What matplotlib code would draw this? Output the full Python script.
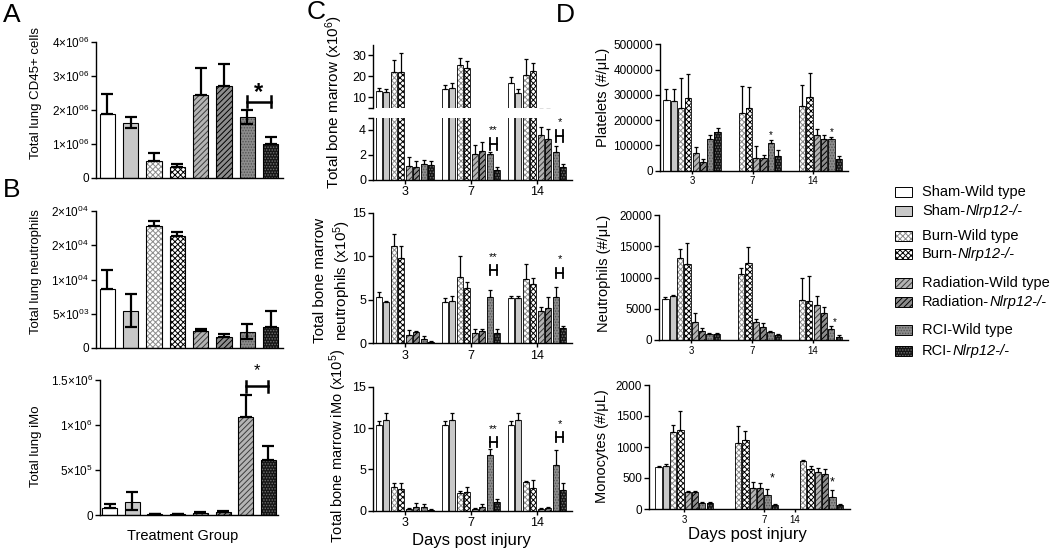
import numpy as np
import matplotlib
matplotlib.use('Agg')
import matplotlib.pyplot as plt
from matplotlib.patches import Rectangle

plt.rcParams['font.family'] = ['Liberation Sans', 'DejaVu Sans']
plt.rcParams['mathtext.fontset'] = 'custom'
plt.rcParams['mathtext.rm'] = 'Liberation Sans'
plt.rcParams['mathtext.it'] = 'Liberation Sans:italic'
plt.rcParams['hatch.linewidth'] = 0.7
plt.rcParams['axes.linewidth'] = 1.0

nan = np.nan

# ---- data ----
groups = ['Sham-', 'Sham-', 'Burn-', 'Burn-', 'Radiation-', 'Radiation-', 'RCI-', 'RCI-']
genotype = ['Wild type', 'Nlrp12-/-', 'Wild type', 'Nlrp12-/-',
            'Wild type', 'Nlrp12-/-', 'Wild type', 'Nlrp12-/-']

# panel A / B: lung, one bar per group (value, top of whisker, bottom of whisker)
lung_cd45 = [1.89e6, 1.63e6, 0.50e6, 0.31e6, 2.44e6, 2.70e6, 1.79e6, 1.00e6]
lung_cd45_top = [2.47e6, 1.80e6, 0.74e6, 0.41e6, 3.23e6, 3.35e6, 2.00e6, 1.21e6]
lung_cd45_low = [1.89e6, 1.46e6, 0.50e6, 0.31e6, 2.44e6, 2.70e6, 1.60e6, 1.00e6]

lung_neut = [8600, 5400, 17860, 16400, 2480, 1560, 2380, 3070]
lung_neut_top = [11340, 7830, 18490, 16930, 2820, 2000, 3550, 5400]
lung_neut_low = [8600, 3070, 17860, 16400, 2480, 1560, 1310, 3070]

lung_imo = [0.074e6, 0.15e6, 0.012e6, 0.012e6, 0.022e6, 0.032e6, 1.09e6, 0.61e6]
lung_imo_top = [0.12e6, 0.26e6, 0.016e6, 0.015e6, 0.03e6, 0.04e6, 1.33e6, 0.77e6]
lung_imo_low = [0.074e6, 0.055e6, 0.012e6, 0.012e6, 0.022e6, 0.032e6, 1.09e6, 0.61e6]

days = ['3', '7', '14']

# panel C: bone marrow, rows = day 3, 7, 14
bm_total = [[13.0, 12.5, 22.0, 22.0, 1.1, 1.0, 1.3, 1.2],
            [13.7, 14.1, 25.2, 23.7, 2.05, 2.35, 2.05, 0.8],
            [16.5, 11.8, 20.5, 22.5, 3.6, 3.25, 2.2, 1.07]]
bm_total_top = [[14.1, 13.7, 27.6, 30.8, 1.8, 1.5, 1.6, 1.5],
                [15.7, 16.5, 28.4, 27.3, 2.8, 3.07, 2.27, 1.07],
                [19.4, 13.7, 28.0, 26.3, 4.2, 4.1, 2.7, 1.3]]

bm_neut = [[5.36, 4.71, 11.2, 9.85, 0.96, 1.26, 0.5, 0.15],
           [4.79, 4.87, 7.66, 6.4, 1.15, 1.46, 5.29, 1.23],
           [5.17, 5.17, 7.36, 6.78, 3.75, 4.1, 5.36, 1.72]]
bm_neut_top = [[5.94, 4.87, 12.6, 11.2, 1.5, 1.45, 0.88, 0.23],
               [5.25, 5.44, 10.04, 7.0, 1.6, 1.6, 6.13, 1.6],
               [5.48, 5.48, 9.12, 7.47, 4.21, 5.29, 6.44, 2.0]]

bm_imo = [[10.36, 10.97, 2.82, 2.58, 0.2, 0.44, 0.48, 0.12],
          [10.36, 10.97, 2.2, 2.3, 0.2, 0.44, 6.73, 1.09],
          [10.36, 10.97, 3.43, 2.78, 0.2, 0.3, 5.5, 2.5]]
bm_imo_top = [[10.85, 11.85, 3.39, 3.39, 0.36, 0.97, 0.8, 0.2],
              [10.85, 11.85, 2.38, 2.82, 0.32, 0.8, 7.42, 1.37],
              [10.85, 11.85, 3.63, 3.7, 0.3, 0.45, 7.3, 3.3]]

# panel D: blood
platelets = [[280e3, 275e3, 250e3, 288e3, 70e3, 35e3, 125e3, 152e3],
             [nan, nan, 230e3, 250e3, 52e3, 52e3, 110e3, 60e3],
             [nan, nan, 255e3, 290e3, 140e3, 125e3, 125e3, 45e3]]
platelets_top = [[322e3, 322e3, 365e3, 383e3, 95e3, 48e3, 143e3, 167e3],
                 [nan, nan, 335e3, 333e3, 97e3, 62e3, 120e3, 80e3],
                 [nan, nan, 340e3, 385e3, 165e3, 140e3, 135e3, 60e3]]

blood_neut = [[6540, 7020, 13190, 12230, 2820, 1490, 900, 900],
              [nan, nan, 10640, 12340, 2930, 2130, 1220, 745],
              [nan, nan, 6400, 6240, 5540, 4340, 1790, 540]]
blood_neut_top = [[6915, 7180, 14630, 15585, 4360, 1860, 1060, 1060],
                  [nan, nan, 11540, 14890, 3300, 2770, 1440, 960],
                  [nan, nan, 9880, 10310, 7050, 5260, 2170, 760]]

monocytes = [[672, 699, 1247, 1274, 269, 269, 102, 91],
             [nan, nan, 1059, 1113, 344, 333, 226, 59],
             [nan, nan, 780, 640, 600, 570, 200, 60]]
monocytes_top = [[693, 726, 1355, 1586, 296, 296, 118, 118],
                 [nan, nan, 1339, 1263, 441, 425, 317, 75],
                 [nan, nan, 795, 700, 660, 640, 310, 75]]

# bar fill: (face colour, hatch, hatch colour)
styles = [('white', None, 'white'),
          ('#c8c8c8', None, '#c8c8c8'),
          ('white', 'xxxxxx', '#8c8c8c'),
          ('white', 'xxxxxx', 'black'),
          ('#b4b4b4', '//////', '#3c3c3c'),
          ('#8c8c8c', '//////', 'black'),
          ('#8c8c8c', '......', '#555555'),
          ('#151515', '......', '#707070')]
imo_styles = styles[:6] + [styles[4], styles[7]]

W, H = 1050, 548
fig = plt.figure(figsize=(W / 100, H / 100), dpi=100)


def box(l, t, r, b):
    ax = fig.add_axes([l / W, 1 - b / H, (r - l) / W, (b - t) / H])
    ax.spines['top'].set_visible(False)
    ax.spines['right'].set_visible(False)
    ax.patch.set_alpha(0)
    return ax


def draw_bars(ax, xs, vals, tops, lows, sty, width, lw_edge, lw_err, cap):
    for x, v, t, lo, s in zip(xs, vals, tops, lows, sty):
        if np.isnan(v):
            continue
        fc, hatch, hc = s
        ax.bar(x, v, width, color=fc, edgecolor=hc, hatch=hatch, linewidth=0)
        ax.bar(x, v, width, fill=False, edgecolor='black', linewidth=lw_edge)
        ax.errorbar(x, v, yerr=[[v - lo], [t - v]], fmt='none', ecolor='black',
                    elinewidth=lw_err, capsize=cap, capthick=lw_err)


def bracket(ax, x0, x1, y, h, lw):
    ax.plot([x0, x1], [y, y], color='black', lw=lw, clip_on=False)
    ax.plot([x0, x0], [y - h, y + h], color='black', lw=lw, clip_on=False)
    ax.plot([x1, x1], [y - h, y + h], color='black', lw=lw, clip_on=False)


# ---------------- A / B ----------------
lung_x = np.arange(8)

axA = box(96, 42, 283, 178)
draw_bars(axA, lung_x, lung_cd45, lung_cd45_top, lung_cd45_low, styles, 0.65, 0.8, 1.6, 4)
axA.set_xlim(-0.49, 7.53)
axA.set_ylim(0, 4e6)
axA.set_xticks([])
axA.set_yticks([0, 1e6, 2e6, 3e6, 4e6])
axA.set_yticklabels(['0'] + ['%d×10$^{06}$' % k for k in range(1, 5)])
bracket(axA, 6, 7, 2.24e6, 0.16e6, 1.8)
axA.text(6.46, 2.5e6, '*', fontsize=17, fontweight='bold', ha='center', va='center')

axB = box(96, 211, 283, 348)
draw_bars(axB, lung_x, lung_neut, lung_neut_top, lung_neut_low, styles, 0.65, 0.8, 1.6, 4)
axB.set_xlim(-0.49, 7.53)
axB.set_ylim(0, 20000)
axB.set_xticks([])
axB.set_yticks([0, 5000, 10000, 15000, 20000])
axB.set_yticklabels(['0', '5×10$^{03}$', '1×10$^{04}$', '2×10$^{04}$', '2×10$^{04}$'])

axI = box(100, 380, 278, 515)
draw_bars(axI, lung_x, lung_imo, lung_imo_top, lung_imo_low, imo_styles, 0.66, 0.8, 1.6, 4)
axI.set_xlim(-0.42, 7.42)
axI.set_ylim(0, 1.5e6)
axI.set_xticks([])
axI.set_yticks([0, 0.5e6, 1e6, 1.5e6])
axI.set_yticklabels(['0', '5×10$^{5}$', '1×10$^{6}$', '1.5×10$^{6}$'])
bracket(axI, 6, 7, 1.43e6, 0.06e6, 1.8)
axI.text(6.5, 1.6e6, '*', fontsize=12, ha='center', va='center')

for ax in (axA, axB, axI):
    ax.tick_params(axis='y', labelsize=8.5, length=3.5, width=1.0, pad=1.5)

# ---------------- C ----------------
c_pitch = 8.8
c_x = [[g * c_pitch + i - 3.5 for i in range(8)] for g in range(3)]
c_ticks = [g * c_pitch for g in range(3)]
c_xlim = (-4.27, 22.27)

axCu = box(373, 44.5, 572, 107.5)
axCl = box(373, 117.5, 572, 180)
for ax in (axCu, axCl):
    for g in range(3):
        draw_bars(ax, c_x[g], bm_total[g], bm_total_top[g], bm_total[g], styles,
                  0.75, 0.6, 0.9, 1.6)
    ax.set_xlim(*c_xlim)
axCu.set_ylim(5, 35)
axCu.spines['bottom'].set_visible(False)
axCu.set_xticks([])
axCu.set_yticks([5, 10, 20, 30])
axCu.set_yticklabels(['', '10', '20', '30'])
axCl.set_ylim(0, 5)
axCl.set_yticks([0, 2, 4, 5])
axCl.set_yticklabels(['0', '2', '4', ''])
axCl.set_xticks(c_ticks)
axCl.set_xticklabels(days)
bracket(axCl, c_x[1][6], c_x[1][7], 2.87, 0.47, 1.3)
axCl.text(c_x[1][6] + 0.5, 4.0, '**', fontsize=8, ha='center', va='center')
bracket(axCl, c_x[2][6], c_x[2][7], 3.5, 0.5, 1.3)
axCl.text(c_x[2][6] + 0.5, 4.66, '*', fontsize=8, ha='center', va='center')

axCm = box(373, 212.7, 572, 343.3)
for g in range(3):
    draw_bars(axCm, c_x[g], bm_neut[g], bm_neut_top[g], bm_neut[g], styles, 0.75, 0.6, 0.9, 1.6)
axCm.set_xlim(*c_xlim)
axCm.set_ylim(0, 15)
axCm.set_yticks([0, 5, 10, 15])
axCm.set_xticks(c_ticks)
axCm.set_xticklabels(days)
bracket(axCm, c_x[1][6], c_x[1][7], 8.43, 0.6, 1.3)
axCm.text(c_x[1][6] + 0.5, 9.9, '**', fontsize=8, ha='center', va='center')
bracket(axCm, c_x[2][6], c_x[2][7], 8.05, 0.6, 1.3)
axCm.text(c_x[2][6] + 0.5, 9.7, '*', fontsize=8, ha='center', va='center')

axCb = box(373, 386.7, 572, 510.7)
for g in range(3):
    draw_bars(axCb, c_x[g], bm_imo[g], bm_imo_top[g], bm_imo[g], styles, 0.75, 0.6, 0.9, 1.6)
axCb.set_xlim(*c_xlim)
axCb.set_ylim(0, 15)
axCb.set_yticks([0, 5, 10, 15])
axCb.set_xticks(c_ticks)
axCb.set_xticklabels(days)
bracket(axCb, c_x[1][6], c_x[1][7], 8.35, 0.6, 1.3)
axCb.text(c_x[1][6] + 0.5, 9.9, '**', fontsize=8, ha='center', va='center')
bracket(axCb, c_x[2][6], c_x[2][7], 8.9, 0.6, 1.3)
axCb.text(c_x[2][6] + 0.5, 10.5, '*', fontsize=8, ha='center', va='center')

for ax in (axCu, axCl, axCm, axCb):
    ax.tick_params(axis='y', labelsize=9, length=3.5, width=1.0, pad=1.5)
    ax.tick_params(axis='x', labelsize=9, length=3, width=1.0, pad=1.5)

# ---------------- D ----------------
d_pitch = 8.3
d_x = [[g * d_pitch + i - 3.5 for i in range(8)] for g in range(3)]
d_ticks = [g * d_pitch for g in range(3)]

axDp = box(660, 44.3, 848, 170.7)
for g in range(3):
    draw_bars(axDp, d_x[g], platelets[g], platelets_top[g], platelets[g], styles, 0.85, 0.6, 0.9, 1.3)
axDp.set_xlim(-4.38, 21.37)
axDp.set_ylim(0, 500000)
axDp.set_yticks(np.arange(0, 500001, 100000))
axDp.set_yticklabels(['%d' % v for v in np.arange(0, 500001, 100000)])
axDp.set_xticks(d_ticks)
axDp.set_xticklabels(days)
axDp.text(d_x[1][6], 141e3, '*', fontsize=7, ha='center', va='center')
axDp.text(d_x[2][6], 153e3, '*', fontsize=7, ha='center', va='center')

axDn = box(659, 215, 848, 340)
for g in range(3):
    draw_bars(axDn, d_x[g], blood_neut[g], blood_neut_top[g], blood_neut[g], styles, 0.85, 0.6, 0.9, 1.3)
axDn.set_xlim(-4.38, 21.37)
axDn.set_ylim(0, 20000)
axDn.set_yticks(np.arange(0, 20001, 5000))
axDn.set_xticks(d_ticks)
axDn.set_xticklabels(days)
axDn.text(d_x[2][6] + 0.4, 2900, '*', fontsize=7, ha='center', va='center')

m_pitch = 8.9
m_x = [[g * m_pitch + i - 3.5 for i in range(8)] for g in range(3)]
axDm = box(649, 385, 850, 509)
for g in range(3):
    draw_bars(axDm, m_x[g], monocytes[g], monocytes_top[g], monocytes[g], styles, 0.85, 0.6, 0.9, 1.3)
axDm.set_xlim(-4.8, 22.7)
axDm.set_ylim(0, 2000)
axDm.set_yticks(np.arange(0, 2001, 500))
axDm.set_xticks([0, m_pitch + 2.1, 2 * m_pitch - 2.6])
axDm.set_xticklabels(days)
axDm.text(m_x[1][6] + 0.7, 500, '*', fontsize=9, ha='center', va='center')
axDm.text(m_x[2][6], 430, '*', fontsize=9, ha='center', va='center')

for ax in (axDp, axDn, axDm):
    ax.tick_params(axis='y', labelsize=8.5, length=3.5, width=1.0, pad=1.5)
    ax.tick_params(axis='x', labelsize=7, length=2.5, width=1.0, pad=1.5)

# ---------------- overlay: labels and legend ----------------
ov = fig.add_axes([0, 0, 1, 1])
ov.set_xlim(0, W)
ov.set_ylim(H, 0)
ov.axis('off')

for letter, x, y in [('A', 3, 3), ('B', 3, 178), ('C', 307, 0), ('D', 556, 3)]:
    ov.text(x, y, letter, fontsize=19, ha='left', va='top')

ov.text(36, 93, 'Total lung CD45+ cells', fontsize=9.5, rotation=90, ha='center', va='center')
ov.text(36, 272, 'Total lung neutrophils', fontsize=9.5, rotation=90, ha='center', va='center')
ov.text(36, 446, 'Total lung iMo', fontsize=9.5, rotation=90, ha='center', va='center')
ov.text(183, 536, 'Treatment Group', fontsize=10.5, ha='center', va='center')

ov.text(334, 102, 'Total bone marrow (x10$^{6}$)', fontsize=11, rotation=90, ha='center', va='center')
ov.text(333, 280, 'Total bone marrow\nneutrophils (x10$^{5}$)', fontsize=11, rotation=90,
        ha='center', va='center', linespacing=1.25)
ov.text(338, 446, 'Total bone marrow iMo (x10$^{5}$)', fontsize=10.5, rotation=90, ha='center', va='center')
ov.text(471, 540, 'Days post injury', fontsize=12, ha='center', va='center')

ov.text(603, 97, 'Platelets (#/μL)', fontsize=10.5, rotation=90, ha='center', va='center')
ov.text(604, 273, 'Neutrophils (#/μL)', fontsize=10.5, rotation=90, ha='center', va='center')
ov.text(602, 446, 'Monocytes (#/μL)', fontsize=10.5, rotation=90, ha='center', va='center')
ov.text(747, 535, 'Days post injury', fontsize=12, ha='center', va='center')

legend_rows = [192, 211, 236, 254, 283, 302, 330, 351]
renderer = fig.canvas.get_renderer()
inv = ov.transData.inverted()
for grp, gen, y, s in zip(groups, genotype, legend_rows, styles):
    fc, hatch, hc = s
    ov.add_patch(Rectangle((895, y - 5), 17, 10, facecolor=fc, edgecolor=hc, hatch=hatch, linewidth=0))
    ov.add_patch(Rectangle((895, y - 5), 17, 10, fill=False, edgecolor='black', linewidth=0.7))
    if gen == 'Wild type':
        ov.text(922, y, grp + gen, fontsize=10.5, ha='left', va='center')
    else:
        t = ov.text(922, y, grp, fontsize=10.5, ha='left', va='center')
        bb = t.get_window_extent(renderer)
        xe = inv.transform((bb.x1, bb.y0))[0]
        ov.text(xe, y, gen, fontsize=10.5, style='italic', ha='left', va='center')

fig.savefig('out.png', dpi=100)
